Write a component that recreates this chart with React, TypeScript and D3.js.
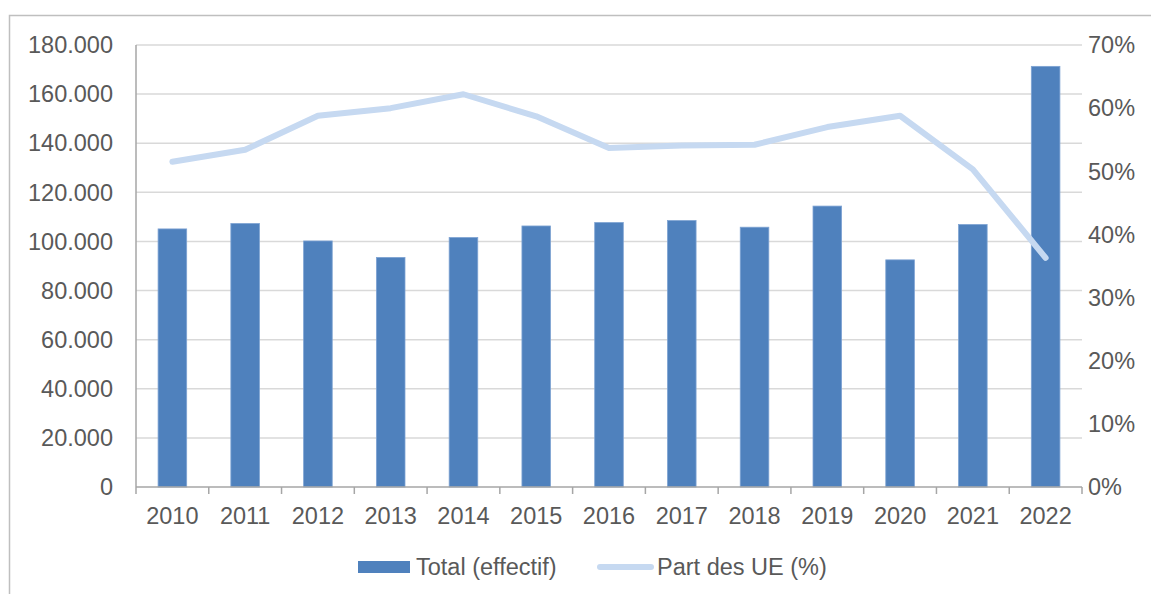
import React from 'react';
import * as d3 from 'd3';

const years = ['2010', '2011', '2012', '2013', '2014', '2015', '2016', '2017', '2018', '2019', '2020', '2021', '2022'];
const totals = [105100, 107300, 100200, 93500, 101600, 106300, 107700, 108500, 105800, 114400, 92500, 106900, 171300];
const shareUE = [0.515, 0.534, 0.588, 0.6, 0.622, 0.587, 0.537, 0.541, 0.542, 0.57, 0.588, 0.503, 0.363];
const leftTicks = [0, 20000, 40000, 60000, 80000, 100000, 120000, 140000, 160000, 180000];
const rightTicks = [0, 0.1, 0.2, 0.3, 0.4, 0.5, 0.6, 0.7];

const W = 1151;
const H = 594;
const margin = { top: 45, right: 69, bottom: 107, left: 136 };

const barColor = '#4f81bd';
const lineColor = '#c6d9f1';
const textColor = '#595959';
const font = '"Liberation Sans", Arial, sans-serif';
const fs = 23.5;

const fmtLocale = d3.formatLocale({ decimal: ',', thousands: '.', grouping: [3], currency: ['', ''] });
const fmtTotal = fmtLocale.format(',');
const fmtPct = d3.format('.0%');

export default function App() {
  const x = d3.scaleBand<string>()
    .domain(years)
    .range([margin.left, W - margin.right]);

  const yLeft = d3.scaleLinear()
    .domain([0, 180000])
    .range([H - margin.bottom, margin.top]);

  const yRight = d3.scaleLinear()
    .domain([0, 0.7])
    .range([H - margin.bottom, margin.top]);

  const barW = x.step() * 0.393;
  const cx = (y: string) => (x(y) ?? 0) + x.bandwidth() / 2;

  const line = d3.line<number>()
    .x((_, i) => cx(years[i]))
    .y(d => yRight(d));

  const y0 = yLeft(0);
  const xEnd = W - margin.right;

  return (
    <svg width={W} height={H} style={{ position: 'absolute', left: 0, top: 0, background: '#fff' }} fontFamily={font}>
      {/* cadre */}
      <path d={`M9.5,${H} V15.5 H${W}`} fill="none" stroke="#bfbfbf" strokeWidth={1.5} />

      {/* grille */}
      {leftTicks.filter(t => t > 0).map(t => (
        <line key={t} x1={margin.left} x2={xEnd} y1={yLeft(t)} y2={yLeft(t)} stroke="#d9d9d9" strokeWidth={1.5} />
      ))}

      {/* barres */}
      {totals.map((v, i) => (
        <rect
          key={years[i]}
          x={cx(years[i]) - barW / 2}
          y={yLeft(v)}
          width={barW}
          height={y0 - yLeft(v)}
          fill={barColor}
          stroke="#7ea3d3"
          strokeWidth={0.8}
        />
      ))}

      {/* axes */}
      <line x1={margin.left} x2={margin.left} y1={margin.top} y2={y0} stroke="#a6a6a6" strokeWidth={1.5} />
      <line x1={margin.left} x2={xEnd} y1={y0} y2={y0} stroke="#a6a6a6" strokeWidth={1.5} />
      {years.map(y => (
        <line key={y} x1={x(y)} x2={x(y)} y1={y0} y2={y0 + 7} stroke="#a6a6a6" strokeWidth={1.5} />
      ))}
      <line x1={xEnd} x2={xEnd} y1={y0} y2={y0 + 7} stroke="#a6a6a6" strokeWidth={1.5} />

      {/* ligne part UE */}
      <path d={line(shareUE) ?? ''} fill="none" stroke={lineColor} strokeWidth={6} strokeLinejoin="round" strokeLinecap="round" />

      {/* étiquettes */}
      {leftTicks.map(t => (
        <text key={t} x={113} y={yLeft(t)} dy="0.35em" textAnchor="end" fontSize={fs} fill={textColor}>
          {fmtTotal(t)}
        </text>
      ))}
      {rightTicks.map(t => (
        <text key={t} x={1088} y={yRight(t)} dy="0.35em" textAnchor="start" fontSize={fs} fill={textColor}>
          {fmtPct(t)}
        </text>
      ))}
      {years.map(y => (
        <text key={y} x={cx(y)} y={524} textAnchor="middle" fontSize={fs} fill={textColor}>
          {y}
        </text>
      ))}

      {/* légende */}
      <rect x={358} y={561} width={52} height={12} fill={barColor} />
      <text x={416} y={575} fontSize={fs} fill={textColor}>Total (effectif)</text>
      <line x1={600} x2={651} y1={567} y2={567} stroke={lineColor} strokeWidth={6} strokeLinecap="round" />
      <text x={657} y={575} fontSize={fs} fill={textColor}>Part des UE (%)</text>
    </svg>
  );
}
